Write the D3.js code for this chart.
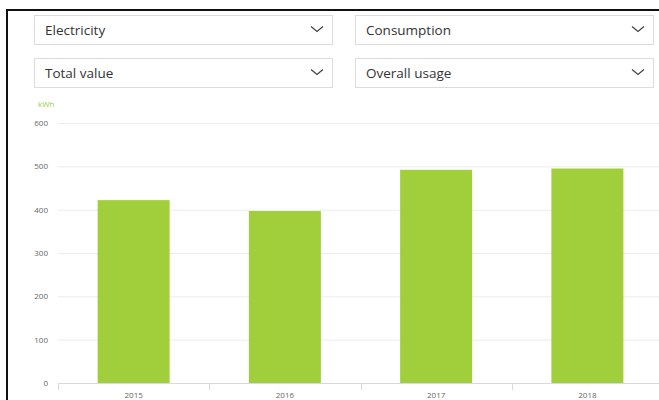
<!DOCTYPE html>
<html><head><meta charset="utf-8">
<script src="https://cdn.jsdelivr.net/npm/d3@7"></script>
<style>
html,body{margin:0;padding:0;background:#fff;overflow:hidden;}
svg{display:block;}
</style></head><body>
<svg id="c" width="659" height="400"></svg>
<script>
const categories = ["2015","2016","2017","2018"];
const values = [422, 397, 492, 495];
const yTicks = [0,100,200,300,400,500,600];
const dropdowns = [["Electricity","Consumption"],["Total value","Overall usage"]];
const unitLabel = "kWh";

const svg = d3.select("#c");
const font = "'Open Sans', sans-serif";

// frame
svg.append("line").attr("x1",7).attr("x2",659).attr("y1",10).attr("y2",10).attr("stroke","#111").attr("stroke-width",2);
svg.append("line").attr("x1",7).attr("x2",7).attr("y1",9).attr("y2",400).attr("stroke","#111").attr("stroke-width",2);

// dropdowns
const boxX = [34, 355], boxW = 298, boxY = [15, 58], boxH = 29;
dropdowns.forEach((row, r) => {
  row.forEach((label, c) => {
    const g = svg.append("g").attr("transform", `translate(${boxX[c]},${boxY[r]})`);
    g.append("rect").attr("x",0.5).attr("y",0.5).attr("width",boxW).attr("height",boxH)
      .attr("fill","#fff").attr("stroke","#dcdcdc");
    g.append("text").attr("x",11).attr("y",boxH/2+5).attr("font-family",font)
      .attr("font-size",13.5).attr("fill","#333").text(label);
    g.append("path").attr("d",`M${boxW-21},${boxH/2-3} l6,5 l6,-5`).attr("fill","none")
      .attr("stroke","#444").attr("stroke-width",1.3);
  });
});

// chart
const x = d3.scaleBand().domain(categories).range([58, 663]).padding(0);
const y = d3.scaleLinear().domain([0,600]).range([383, 123]);

svg.append("text").attr("x",38).attr("y",107).attr("font-family",font).attr("font-size",8)
  .attr("fill","#9ccc4a").text(unitLabel);

const grid = svg.append("g");
yTicks.filter(t=>t>0).forEach(t=>{
  grid.append("line").attr("x1",58).attr("x2",659).attr("y1",y(t)+0.5).attr("y2",y(t)+0.5)
    .attr("stroke","#ececec").attr("stroke-width",1);
});

const yAxis = svg.append("g").attr("transform","translate(58,0)")
  .call(d3.axisLeft(y).tickValues(yTicks).tickSize(0).tickPadding(10));
yAxis.select(".domain").remove();
yAxis.selectAll("text").attr("font-family",font).attr("font-size",8).attr("fill","#666");

const barW = x.bandwidth()*0.476;
svg.append("g").selectAll("rect").data(values).join("rect")
  .attr("x",(d,i)=>x(categories[i]) + (x.bandwidth()-barW)/2)
  .attr("y",d=>y(d)).attr("width",barW).attr("height",d=>y(0)-y(d))
  .attr("fill","#a1cf3b");

const xAxis = svg.append("g").attr("transform","translate(0,383)")
  .call(d3.axisBottom(x).tickSize(0).tickPadding(9));
xAxis.select(".domain").attr("stroke","#d8d8e4").attr("d","M58,0.5H659");
xAxis.selectAll("text").attr("font-family",font).attr("font-size",8).attr("fill","#666");
// boundary ticks
const bounds = categories.map(c=>x(c)).concat([x.range()[1]]);
xAxis.append("g").selectAll("line").data(bounds).join("line")
  .attr("x1",d=>Math.round(d)+0.5).attr("x2",d=>Math.round(d)+0.5).attr("y1",0).attr("y2",7)
  .attr("stroke","#d8d8e4");
</script>
</body></html>
